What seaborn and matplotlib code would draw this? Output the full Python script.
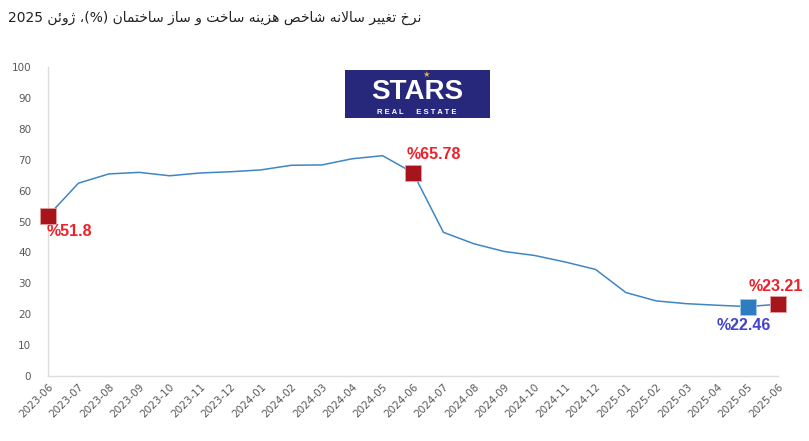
import matplotlib
matplotlib.use("Agg")
import matplotlib.pyplot as plt
from matplotlib.patches import Rectangle
import numpy as np
import pandas as pd
import seaborn as sns

# data
months = ["2023-06", "2023-07", "2023-08", "2023-09", "2023-10", "2023-11", "2023-12",
          "2024-01", "2024-02", "2024-03", "2024-04", "2024-05", "2024-06", "2024-07",
          "2024-08", "2024-09", "2024-10", "2024-11", "2024-12", "2025-01", "2025-02",
          "2025-03", "2025-04", "2025-05", "2025-06"]
values = [51.8, 62.4, 65.4, 65.9, 64.8, 65.7, 66.1, 66.7, 68.2, 68.3, 70.3, 71.3,
          65.78, 46.5, 42.8, 40.3, 39.0, 36.9, 34.5, 27.0, 24.3, 23.4, 22.9, 22.46, 23.21]
red_months = ["2023-06", "2024-06", "2025-06"]
blue_months = ["2025-05"]
title_words = ["نرخ", "تغییر", "سالانه", "شاخص", "هزینه", "ساخت", "و", "ساز", "ساختمان",
               "(%)،", "ژوئن", "2025"]

# minimal arabic/persian shaping (matplotlib has no shaping / bidi)
FORMS = {
    'ا': (0xFE8D, 0xFE8E, None, None),
    'ت': (0xFE95, 0xFE96, 0xFE97, 0xFE98),
    'خ': (0xFEA5, 0xFEA6, 0xFEA7, 0xFEA8),
    'ر': (0xFEAD, 0xFEAE, None, None),
    'ز': (0xFEAF, 0xFEB0, None, None),
    'ژ': (0xFB8A, 0xFB8B, None, None),
    'س': (0xFEB1, 0xFEB2, 0xFEB3, 0xFEB4),
    'ش': (0xFEB5, 0xFEB6, 0xFEB7, 0xFEB8),
    'ص': (0xFEB9, 0xFEBA, 0xFEBB, 0xFEBC),
    'غ': (0xFECD, 0xFECE, 0xFECF, 0xFED0),
    'ل': (0xFEDD, 0xFEDE, 0xFEDF, 0xFEE0),
    'م': (0xFEE1, 0xFEE2, 0xFEE3, 0xFEE4),
    'ن': (0xFEE5, 0xFEE6, 0xFEE7, 0xFEE8),
    'ه': (0xFEE9, 0xFEEA, 0xFEEB, 0xFEEC),
    'و': (0xFEED, 0xFEEE, None, None),
    'ی': (0xFBFC, 0xFBFD, 0xFBFE, 0xFBFF),
    'ئ': (0xFE89, 0xFE8A, 0xFE8B, 0xFE8C),
}


def shape(word):
    if word == "(%)،":
        return "،(%)"
    if not any(c in FORMS for c in word):
        return word
    out = []
    i = 0
    prev_joins = False
    while i < len(word):
        c = word[i]
        if c not in FORMS:
            out.append(c)
            prev_joins = False
            i += 1
            continue
        if c == 'ل' and i + 1 < len(word) and word[i + 1] == 'ا':
            out.append(chr(0xFEFC if prev_joins else 0xFEFB))
            prev_joins = False
            i += 2
            continue
        iso, fin, ini, med = FORMS[c]
        nxt = i + 1 < len(word) and word[i + 1] in FORMS
        can_left = ini is not None
        if prev_joins and nxt and can_left:
            f = med
        elif prev_joins:
            f = fin
        elif nxt and can_left:
            f = ini
        else:
            f = iso
        out.append(chr(f))
        prev_joins = can_left and nxt
        i += 1
    return ''.join(reversed(out))


title = " ".join(shape(w) for w in reversed(title_words))

df = pd.DataFrame({"month": months, "value": values})
df["x"] = np.arange(len(df))

sns.set_style("white")
plt.rcParams['font.family'] = ['DejaVu Sans']

fig = plt.figure(figsize=(8.09, 4.41), dpi=100)
ax = fig.add_axes([48 / 809, 1 - 376 / 441, 730 / 809, 309 / 441])

sns.lineplot(data=df, x="x", y="value", ax=ax, color="#3F86C4", linewidth=1.1)

red = df[df["month"].isin(red_months)]
blue = df[df["month"].isin(blue_months)]
sns.scatterplot(data=red, x="x", y="value", ax=ax, marker="s", s=120,
                color="#A8141C", edgecolor="#E0A0A0", linewidth=0.6, zorder=5, clip_on=False)
sns.scatterplot(data=blue, x="x", y="value", ax=ax, marker="s", s=120,
                color="#2E7DC0", edgecolor="#A8C8E8", linewidth=0.6, zorder=5, clip_on=False)

# labels (offsets in pixels from the marker)
label_offsets = {"2023-06": (21, -16), "2024-06": (21, 18), "2025-06": (-2, 18)}
for _, r in red.iterrows():
    v = r["value"]
    txt = "%" + (f"{v:.2f}" if v != round(v, 1) else f"{v:.1f}")
    ax.annotate(txt, (r["x"], v), xytext=label_offsets[r["month"]],
                textcoords="offset pixels", ha="center", va="center",
                color="#F0202A", fontsize=11.5, fontweight="bold",
                family=["Liberation Sans", "DejaVu Sans"], annotation_clip=False)
for _, r in blue.iterrows():
    ax.annotate("%" + f"{r['value']:.2f}", (r["x"], r["value"]), xytext=(-4, -19),
                textcoords="offset pixels", ha="center", va="center",
                color="#4343CF", fontsize=11.5, fontweight="bold",
                family=["Liberation Sans", "DejaVu Sans"], annotation_clip=False)

ax.set_xlim(0, len(months) - 1)
ax.set_ylim(0, 100)
ax.set_yticks(range(0, 101, 10))
ax.set_xticks(df["x"])
ax.set_xticklabels(months, rotation=45, ha="right", rotation_mode="anchor")
ax.tick_params(axis="both", length=0, labelsize=7.5, labelcolor="#595959")
ax.tick_params(axis="x", pad=4)
ax.tick_params(axis="y", pad=12)
ax.set_xlabel("")
ax.set_ylabel("")
for s in ["top", "right"]:
    ax.spines[s].set_visible(False)
for s in ["left", "bottom"]:
    ax.spines[s].set_color("#DDDDDD")
    ax.spines[s].set_linewidth(1)

fig.text(8 / 809, 1 - 18 / 441, title, ha="left", va="center", fontsize=10,
         color="#222222", family=["DejaVu Sans"])

# logo
fig.patches.append(Rectangle((345 / 809, 1 - 118 / 441), 145 / 809, 48 / 441,
                             transform=fig.transFigure, facecolor="#27287C",
                             edgecolor="none", zorder=10))
fig.text(417 / 809, 1 - 92 / 441, "STARS", ha="center", va="center", fontsize=20,
         fontweight="bold", color="white", zorder=11, family=["Liberation Sans"])
fig.text(417 / 809, 1 - 112 / 441, "R E A L      E S T A T E", ha="center", va="center",
         fontsize=5.5, fontweight="bold", color="white", zorder=11, family=["Liberation Sans"])
fig.text(426 / 809, 1 - 74 / 441, "★", ha="center", va="center", fontsize=6,
         color="#E8B22A", zorder=12, family=["DejaVu Sans"])

fig.savefig("out.png", dpi=100)
